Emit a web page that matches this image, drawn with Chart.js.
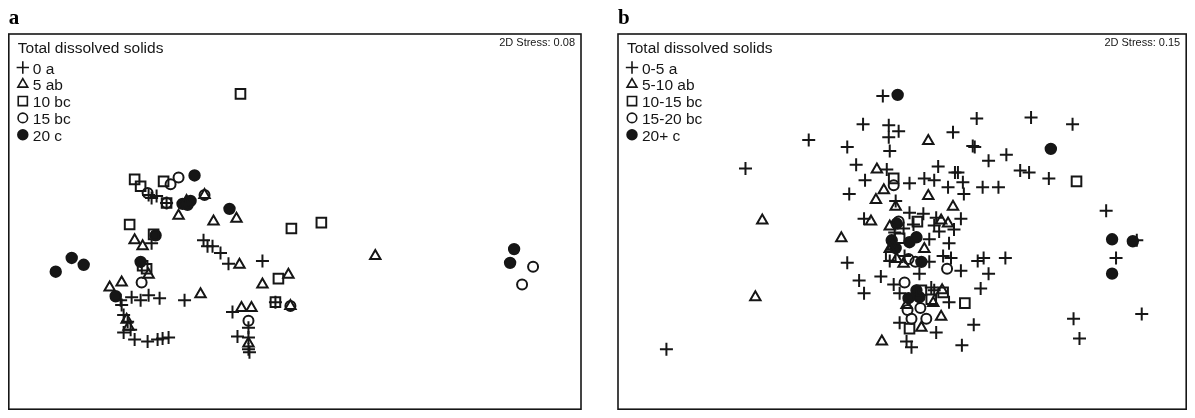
<!DOCTYPE html>
<html>
<head>
<meta charset="utf-8">
<script src="https://cdn.jsdelivr.net/npm/chart.js@4.4.1/dist/chart.umd.min.js"></script>
<style>
  body { margin: 0; background: #fff; width: 1195px; height: 418px; overflow: hidden; position: relative; }
  canvas { position: absolute; top: 0; }
  #chartA { left: 0; }
  #chartB { left: 600px; }
</style>
</head>
<body>
<canvas id="chartA" width="590" height="418"></canvas>
<canvas id="chartB" width="595" height="418"></canvas>
<script>
// Ordination coordinates (x to the right, y downwards)
const legendTitle = 'Total dissolved solids';
const classesA = ['0 a', '5 ab', '10 bc', '15 bc', '20 c'];
const classesB = ['0-5 a', '5-10 ab', '10-15 bc', '15-20 bc', '20+ c'];
const stressA = '0.08';
const stressB = '0.15';

const a0 = [[148,198],[151,201],[156,199],[166,206],[203,244],[207,250],[212,250],[220,257],[228,268],[151,247],[262,265],[120,305],[131,302],[140,305],[148,300],[159,303],[184,305],[121,310],[123,320],[127,327],[123,338],[130,335],[134,345],[147,347],[157,345],[162,344],[168,343],[232,317],[237,342],[248,333],[248,343],[248,355],[249,358],[275,307]];
const a5 = [[178,219],[213,225],[236,222],[134,244],[142,250],[148,279],[109,292],[121,287],[200,299],[239,269],[262,289],[288,279],[241,313],[251,313],[248,349],[126,325],[128,332],[375,260],[290,311],[204,198],[186,204]];
const a10 = [[240,95],[134,182],[140,189],[163,184],[166,206],[129,228],[153,238],[142,270],[146,273],[278,283],[291,232],[321,226],[275,307]];
const a15 = [[147,196],[170,187],[178,180],[166,206],[204,198],[141,287],[248,326],[290,311],[533,271],[522,289]];
const a20 = [[194,178],[182,207],[187,208],[190,204],[229,212],[155,239],[140,266],[83,269],[55,276],[71,262],[115,301],[514,253],[510,267]];

const b0 = [[886,97],[866,126],[892,127],[902,133],[892,139],[957,134],[811,142],[850,149],[893,153],[977,148],[981,120],[1036,119],[1078,126],[979,149],[993,163],[1011,157],[1025,173],[1034,175],[1054,181],[747,171],[859,167],[890,172],[868,183],[913,186],[928,181],[938,183],[942,169],[959,175],[967,185],[962,175],[987,190],[1003,190],[952,190],[968,197],[852,197],[899,204],[867,222],[913,216],[927,217],[940,221],[917,228],[907,232],[938,229],[958,233],[943,235],[933,243],[953,247],[893,265],[908,260],[933,266],[947,260],[955,262],[965,275],[982,265],[988,262],[1010,262],[993,278],[850,267],[862,285],[884,281],[897,289],[867,298],[903,298],[935,292],[938,295],[985,293],[953,307],[903,328],[978,330],[940,338],[910,347],[915,353],[966,351],[1112,214],[1143,244],[1122,262],[1079,324],[1085,344],[1148,319],[667,355],[923,278],[898,236],[965,222]];
const b5 = [[880,172],[932,143],[887,193],[879,203],[932,199],[899,210],[957,210],[874,225],[764,224],[893,230],[945,224],[952,227],[844,242],[896,250],[928,253],[900,263],[907,268],[946,295],[937,308],[910,310],[945,322],[925,333],[885,347],[757,302],[893,253]];
const b10 = [[897,181],[921,225],[903,242],[894,260],[925,295],[935,304],[947,297],[969,308],[913,334],[1082,184]];
const b15 = [[897,188],[902,225],[912,263],[919,266],[951,273],[908,287],[911,315],[924,313],[915,324],[930,324]];
const b20 = [[901,96],[1056,151],[900,227],[913,246],[920,241],[899,252],[925,266],[920,295],[923,302],[912,303],[1118,243],[1139,245],[1118,278],[895,244]];

const ink = '#161616';
const symbols = [
  { pointStyle: 'cross', radius: 6.5, fill: false },
  { pointStyle: 'triangle', radius: 6, fill: false },
  { pointStyle: 'rect', radius: 6.8, fill: false },
  { pointStyle: 'circle', radius: 5, fill: false },
  { pointStyle: 'circle', radius: 5.2, fill: true }
];

function toPoints(list) {
  return list.map(p => ({ x: p[0], y: p[1] }));
}

// frame, panel letter, legend and stress label
const decorPlugin = {
  id: 'decor',
  afterDraw(chart, args, opts) {
    const ctx = chart.ctx;
    const area = chart.chartArea;
    ctx.save();
    ctx.strokeStyle = ink;
    ctx.lineWidth = 1.6;
    ctx.strokeRect(area.left, area.top, area.right - area.left, area.bottom - area.top);

    ctx.fillStyle = '#000';
    ctx.font = 'bold 21px "Liberation Serif", "DejaVu Serif", serif';
    ctx.textBaseline = 'alphabetic';
    ctx.fillText(opts.letter, area.left, 24);

    ctx.fillStyle = ink;
    ctx.font = '15.5px "Liberation Sans", Arial, sans-serif';
    ctx.fillText(legendTitle, area.left + 9, 53);

    opts.labels.forEach((label, i) => {
      const y = 67.5 + i * 16.8;
      const s = symbols[i];
      ctx.strokeStyle = ink;
      ctx.fillStyle = s.fill ? ink : 'rgba(0,0,0,0)';
      Chart.helpers.drawPoint(ctx, {
        pointStyle: s.pointStyle,
        radius: s.radius * 0.95,
        rotation: 0,
        borderWidth: 1.9
      }, area.left + 14, y);
      ctx.fillStyle = ink;
      ctx.fillText(label, area.left + 24, y + 6);
    });

    ctx.font = '11px "Liberation Sans", Arial, sans-serif';
    ctx.textAlign = 'right';
    ctx.fillText('2D Stress: ' + opts.stress, area.right - 6, 46);
    ctx.restore();
  }
};

function renderPanel(canvasId, series, labels, stress, letter, xRange, pad) {
  const ctx = document.getElementById(canvasId).getContext('2d');
  const datasets = series.map((list, i) => ({
    label: labels[i],
    data: toPoints(list),
    pointStyle: symbols[i].pointStyle,
    pointRadius: symbols[i].radius,
    pointBorderWidth: 2,
    pointBorderColor: ink,
    pointBackgroundColor: symbols[i].fill ? ink : 'rgba(0,0,0,0)',
    showLine: false
  }));
  return new Chart(ctx, {
    type: 'scatter',
    data: { datasets: datasets },
    options: {
      responsive: false,
      animation: false,
      devicePixelRatio: 1,
      layout: { padding: pad },
      events: [],
      plugins: {
        legend: { display: false },
        tooltip: { enabled: false },
        decor: { labels: labels, stress: stress, letter: letter }
      },
      scales: {
        x: { type: 'linear', min: xRange[0], max: xRange[1], display: false },
        y: { type: 'linear', min: 34, max: 416, reverse: true, display: false }
      }
    },
    plugins: [decorPlugin]
  });
}

renderPanel('chartA', [a0, a5, a10, a15, a20], classesA, stressA, 'a', [8, 581],
  { left: 8, top: 34, right: 9, bottom: 2 });
renderPanel('chartB', [b0, b5, b10, b15, b20], classesB, stressB, 'b', [618, 1193],
  { left: 18, top: 34, right: 2, bottom: 2 });
</script>
</body>
</html>
